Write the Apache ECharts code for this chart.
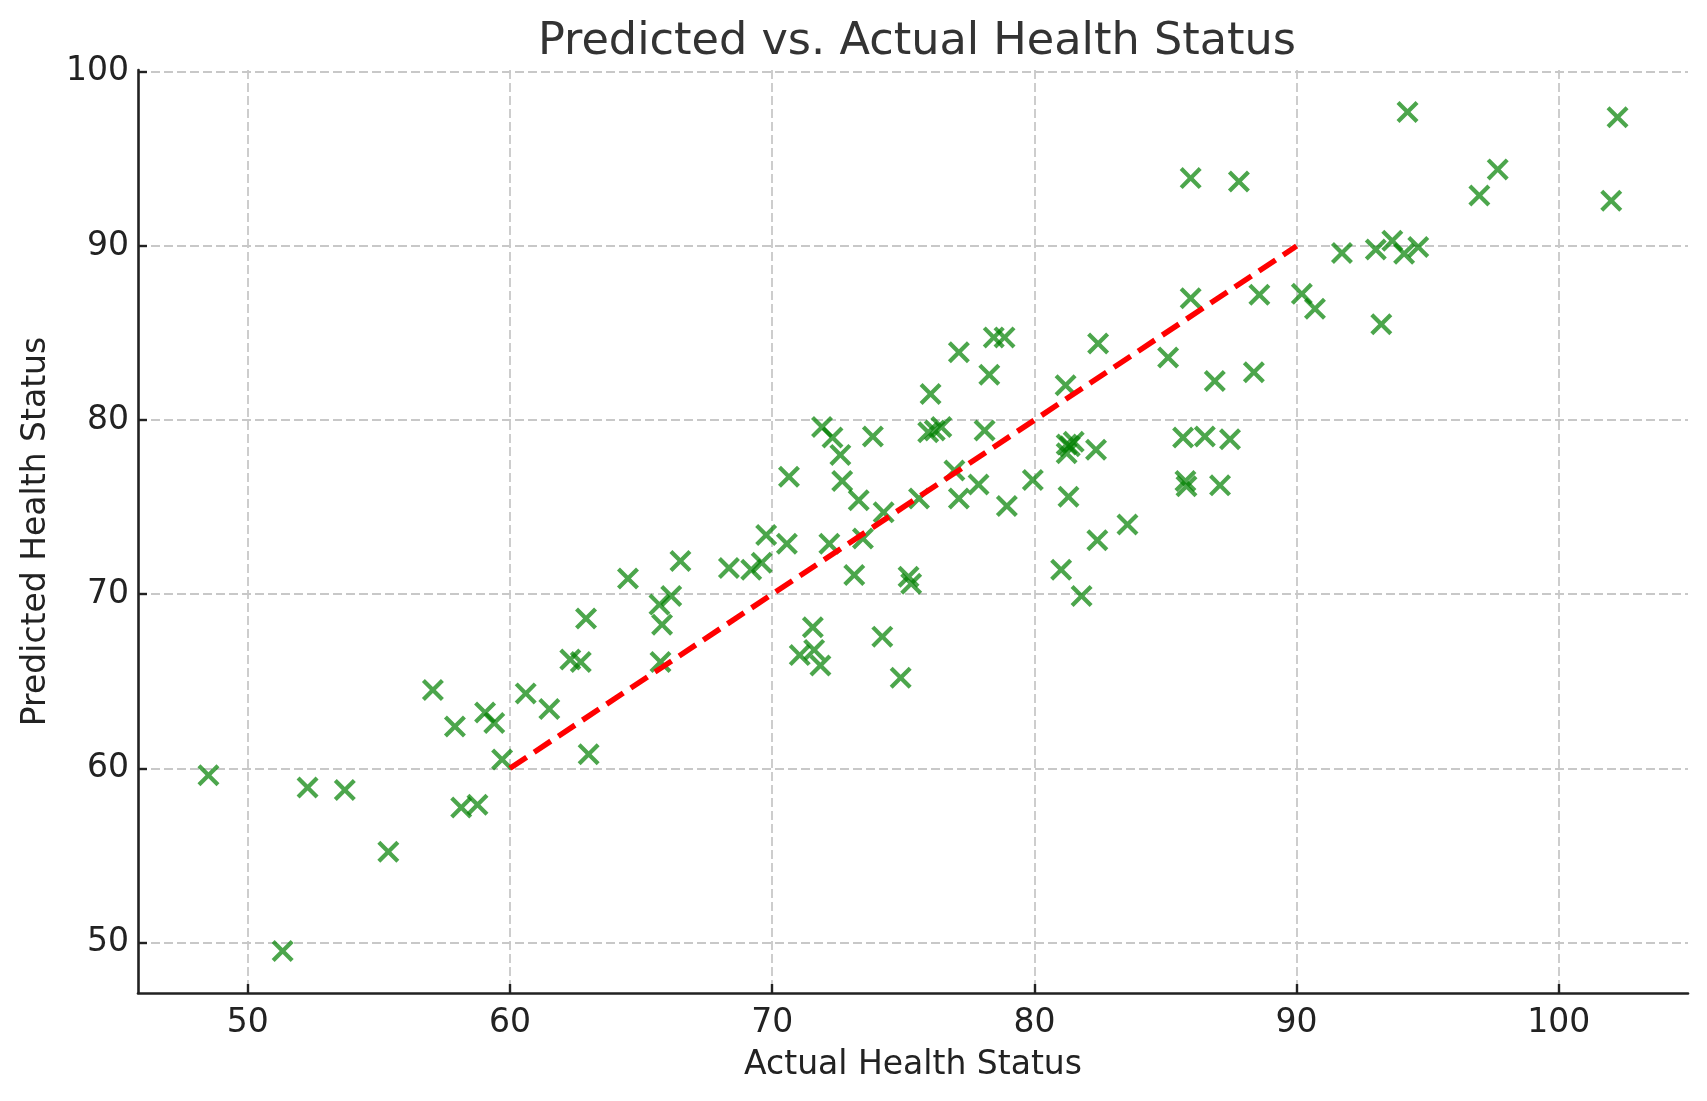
<!DOCTYPE html>
<html>
<head>
<meta charset="utf-8">
<script src="https://cdn.jsdelivr.net/npm/echarts@6/dist/echarts.min.js"></script>
<style>
html,body{margin:0;padding:0;background:#fff;}
#chart{width:1707px;height:1101px;}
</style>
</head>
<body>
<div id="chart"></div>
<script>
// ---- data ----
const actualValues = [
  48.5, 51.33, 52.28, 53.7, 55.36, 57.06, 57.9, 58.14, 58.76, 59.05,
  59.4, 59.7, 60.6, 61.5, 62.3, 62.7, 62.9, 63.0, 64.5, 65.7,
  65.8, 65.74, 66.15, 66.5, 68.35, 69.2, 69.6, 69.77, 70.56, 70.64,
  71.05, 71.55, 71.6, 71.84, 71.9, 72.18, 72.3, 72.6, 72.67, 73.13,
  73.3, 73.46, 73.84, 74.2, 74.25, 74.9, 75.2, 75.3, 75.6, 75.95,
  76.04, 76.2, 76.45, 76.95, 77.12, 77.12, 77.87, 78.1, 78.28, 78.45,
  78.86, 78.95, 79.94, 81.02, 81.19, 81.23, 81.23, 81.35, 81.5, 81.3,
  81.8, 82.35, 82.4, 82.43, 83.55, 85.1, 85.67, 85.76, 85.8, 85.96,
  85.96, 86.5, 86.88, 87.08, 87.46, 87.8, 88.37, 88.58, 90.2, 90.7,
  91.73, 93.02, 93.23, 93.65, 94.1, 94.23, 94.64, 96.97, 97.67, 102.0,
  102.24
];
const predictedValues = [
  59.6, 49.5, 58.9, 58.75, 55.2, 64.5, 62.4, 57.75, 57.9, 63.2,
  62.6, 60.5, 64.3, 63.4, 66.25, 66.1, 68.6, 60.8, 70.9, 69.4,
  68.25, 66.1, 69.9, 71.9, 71.5, 71.4, 71.8, 73.4, 72.9, 76.75,
  66.5, 68.1, 66.8, 65.9, 79.6, 72.9, 79.0, 78.0, 76.5, 71.1,
  75.4, 73.2, 79.06, 67.56, 74.7, 65.2, 71.0, 70.6, 75.5, 79.3,
  81.5, 79.4, 79.6, 77.1, 83.9, 75.5, 76.3, 79.4, 82.6, 84.75,
  84.75, 75.06, 76.56, 71.4, 82.0, 78.6, 78.1, 78.5, 78.75, 75.6,
  69.9, 78.3, 73.1, 84.4, 74.0, 83.6, 79.0, 76.5, 76.2, 93.9,
  87.0, 79.06, 82.25, 76.25, 78.9, 93.7, 82.75, 87.2, 87.25, 86.4,
  89.6, 89.8, 85.5, 90.3, 89.56, 97.7, 89.94, 92.9, 94.4, 92.6,
  97.4
];
const refLineX = [60, 90];
const refLineY = [60, 90];
const xTickValues = [50, 60, 70, 80, 90, 100];
const yTickValues = [50, 60, 70, 80, 90, 100];
const titleText = 'Predicted vs. Actual Health Status';
const xAxisName = 'Actual Health Status';
const yAxisName = 'Predicted Health Status';

// axis extents like matplotlib's 5% margins
function paddedExtent(arr) {
  const lo = Math.min.apply(null, arr), hi = Math.max.apply(null, arr);
  const m = (hi - lo) * 0.05;
  return [lo - m, hi + m];
}
const xExt = paddedExtent(actualValues);
const yExt = paddedExtent(predictedValues);

const scatterData = actualValues.map((v, i) => [v, predictedValues[i]]);
const lineData = refLineX.map((v, i) => [v, refLineY[i]]);

const d = 13.5;
const xPath = 'path://M0,' + d + ' L' + d + ',0 L50,' + (50 - d) + ' L' + (100 - d) + ',0 L100,' + d +
  ' L' + (50 + d) + ',50 L100,' + (100 - d) + ' L' + (100 - d) + ',100 L50,' + (50 + d) +
  ' L' + d + ',100 L0,' + (100 - d) + ' L' + (50 - d) + ',50 Z';

const FONT = 'DejaVu Sans';
const chart = echarts.init(document.getElementById('chart'), null, {renderer: 'canvas'});
const axisCommon = {
  type: 'value',
  axisLine: {show: true, onZero: false, lineStyle: {color: '#222', width: 2.6}},
  axisTick: {show: true, inside: true, length: 9, lineStyle: {color: '#222', width: 2.4}},
  splitLine: {show: true, lineStyle: {color: '#c8c8c8', width: 1.8, type: [9, 4]}},
  nameLocation: 'middle',
  nameTextStyle: {fontFamily: FONT, fontSize: 33, color: '#222'}
};
chart.setOption({
  animation: false,
  backgroundColor: '#fff',
  title: {
    text: titleText,
    left: 912, top: 15, textAlign: 'center',
    textStyle: {fontFamily: FONT, fontSize: 44.6, fontWeight: 'normal', color: '#333'}
  },
  grid: {left: 138, right: 19, top: 70, bottom: 108, containLabel: false},
  xAxis: Object.assign({}, axisCommon, {
    min: xExt[0], max: xExt[1],
    name: xAxisName, nameGap: 56,
    axisTick: Object.assign({}, axisCommon.axisTick, {customValues: xTickValues}),
    axisLabel: {customValues: xTickValues, margin: 14, fontFamily: FONT, fontSize: 33, color: '#222'}
  }),
  yAxis: Object.assign({}, axisCommon, {
    min: yExt[0], max: yExt[1],
    name: yAxisName, nameGap: 85,
    axisTick: Object.assign({}, axisCommon.axisTick, {customValues: yTickValues}),
    axisLabel: {customValues: yTickValues, margin: 9, fontFamily: FONT, fontSize: 33, color: '#222'}
  }),
  series: [
    {
      type: 'scatter',
      data: scatterData,
      symbol: xPath,
      symbolSize: 22,
      itemStyle: {color: 'green', opacity: 0.7},
      z: 2
    },
    {
      type: 'line',
      data: lineData,
      symbol: 'none',
      lineStyle: {color: '#ff0000', width: 5.5, type: [20, 9]},
      z: 3
    }
  ]
});
</script>
</body>
</html>
